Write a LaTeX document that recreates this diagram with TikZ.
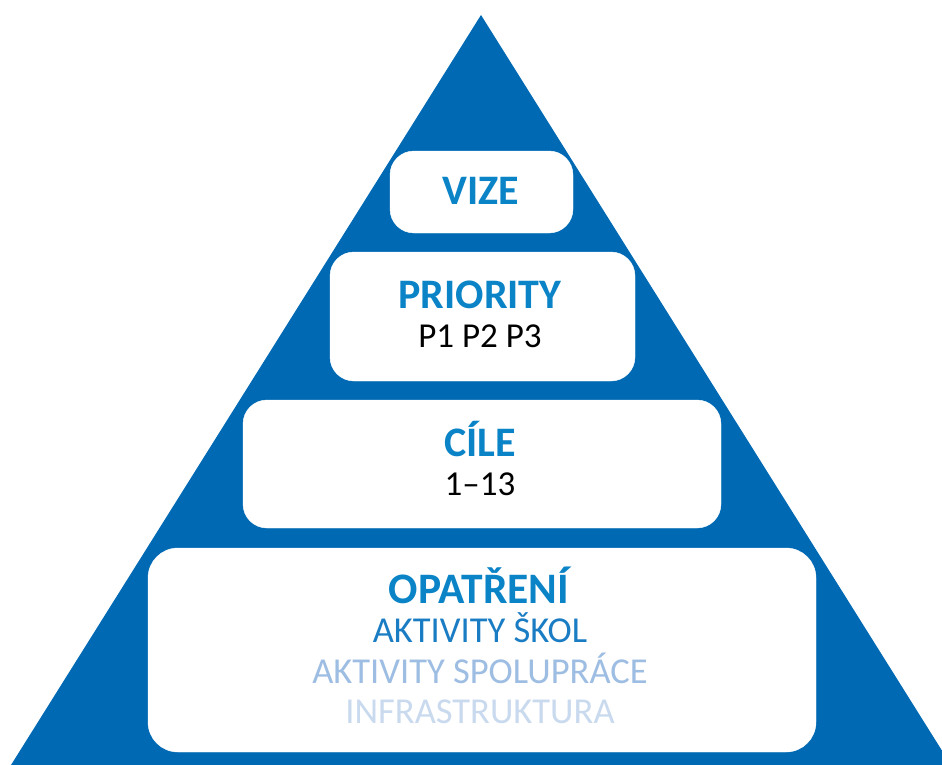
\documentclass[tikz,border=0pt]{standalone}
\usepackage{fontspec}
\setmainfont{Carlito}
\definecolor{triblue}{HTML}{0069B4}
\definecolor{titleblue}{HTML}{0A84C6}
\definecolor{midblue}{HTML}{1A7DC4}
\definecolor{paleblue}{HTML}{9DBDE3}
\definecolor{palerblue}{HTML}{C9DAEF}
\tikzset{
  whitebox/.style={rectangle, fill=white, draw=white, rounded corners=24pt, inner sep=0pt, outer sep=0pt},
  titletext/.style={anchor=base, inner sep=0pt, text=titleblue, font=\fontsize{42}{48}\selectfont\bfseries},
  subtext/.style={anchor=base, inner sep=0pt, text=black, font=\fontsize{35}{42}\selectfont},
  lowtext/.style={anchor=base, inner sep=0pt, font=\fontsize{36.5}{42}\selectfont},
}
\begin{document}
\begin{tikzpicture}[x=1pt,y=-1pt]
\useasboundingbox (0,0) rectangle (942,765);
\begin{scope}
\clip (0,0) rectangle (942,765);
\fill[triblue] (481,15) -- (11,765) -- (951,765) -- cycle;
\end{scope}
\node[whitebox, minimum width=183pt, minimum height=82pt] (vizebox) at (481.5,192) {};
\node[whitebox, minimum width=305pt, minimum height=129pt] (prioritybox) at (482.5,316.5) {};
\node[whitebox, minimum width=478pt, minimum height=128pt] (cilebox) at (482,464) {};
\node[whitebox, minimum width=668pt, minimum height=204pt, rounded corners=30pt] (opatrenibox) at (482,650) {};
\node[titletext] (vize) at (481,204) {VIZE};
\node[titletext] (priority) at (480,308) {PRIORITY};
\node[subtext] (p) at (480,347) {P1 P2 P3};
\node[titletext] (cile) at (480,456) {CÍLE};
\node[subtext] (c) at (480,495) {1–13};
\node[titletext, font=\fontsize{43.5}{48}\selectfont\bfseries] (opatreni) at (479,603) {OPATŘENÍ};
\node[lowtext, text=midblue] (a1) at (480,642) {AKTIVITY ŠKOL};
\node[lowtext, text=paleblue] (a2) at (480,683) {AKTIVITY SPOLUPRÁCE};
\node[lowtext, text=palerblue] (a3) at (480,723) {INFRASTRUKTURA};
\end{tikzpicture}
\end{document}
